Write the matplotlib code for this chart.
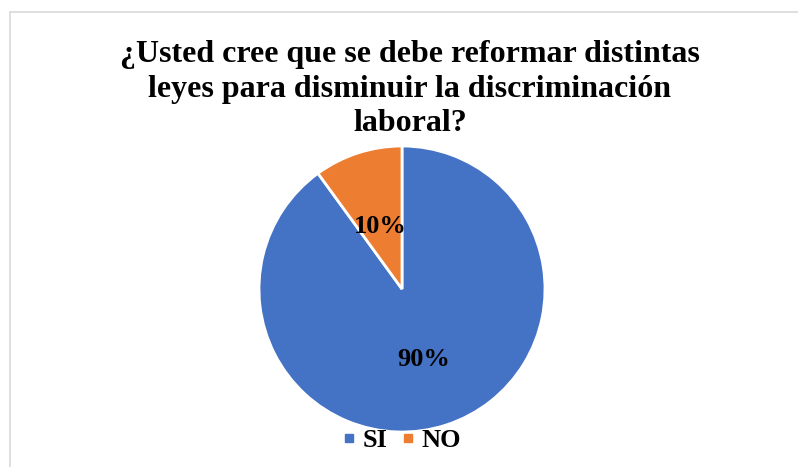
import matplotlib.pyplot as plt
from matplotlib.patches import Rectangle
from matplotlib.lines import Line2D

etiquetas = ['SI', 'NO']
valores = [90, 10]
colores = ['#4472C4', '#ED7D31']
titulo = '¿Usted cree que se debe reformar distintas\nleyes para disminuir la discriminación\nlaboral?'

plt.rcParams['font.family'] = ['Liberation Serif', 'DejaVu Serif']

W, H = 798, 467
fig = plt.figure(figsize=(W / 100, H / 100), dpi=100)

# marco gris del gráfico
fig.patches.append(Rectangle((10 / W, -0.1), 1.1, (H - 12) / H + 0.1, transform=fig.transFigure,
                             fill=False, edgecolor='#d9d9d9', linewidth=1.2))

fig.text(410 / W, (H - 89) / H, titulo, ha='center', va='center', fontsize=23,
         fontweight='bold', linespacing=1.24)

r = 143
ax = fig.add_axes([(402 - r) / W, (H - 289 - r) / H, 2 * r / W, 2 * r / H])
wedges, texts, autotexts = ax.pie(valores, colors=colores, startangle=90, counterclock=False,
                                  autopct='%1.0f%%', pctdistance=0.49, radius=1,
                                  wedgeprops=dict(edgecolor='white', linewidth=2))
for t in autotexts:
    t.set_fontsize(19)
    t.set_fontweight('bold')
    t.set_color('black')
# ajuste fino de posición de las etiquetas
autotexts[0].set_position((autotexts[0].get_position()[0], autotexts[0].get_position()[1] - 0.03))
autotexts[1].set_position((autotexts[1].get_position()[0], autotexts[1].get_position()[1] - 0.03))
ax.set_xlim(-1, 1)
ax.set_ylim(-1, 1)
ax.set_aspect('equal')
ax.axis('off')

handles = [Line2D([], [], marker='s', linestyle='', color=c, markersize=6) for c in colores]
fig.legend(handles, etiquetas, loc='center', bbox_to_anchor=(401 / W, (H - 440) / H), ncol=2,
           frameon=False, prop=dict(size=19, weight='bold'), handletextpad=0.2,
           columnspacing=0.5, handlelength=0.6)

fig.savefig('out.png', dpi=100)
